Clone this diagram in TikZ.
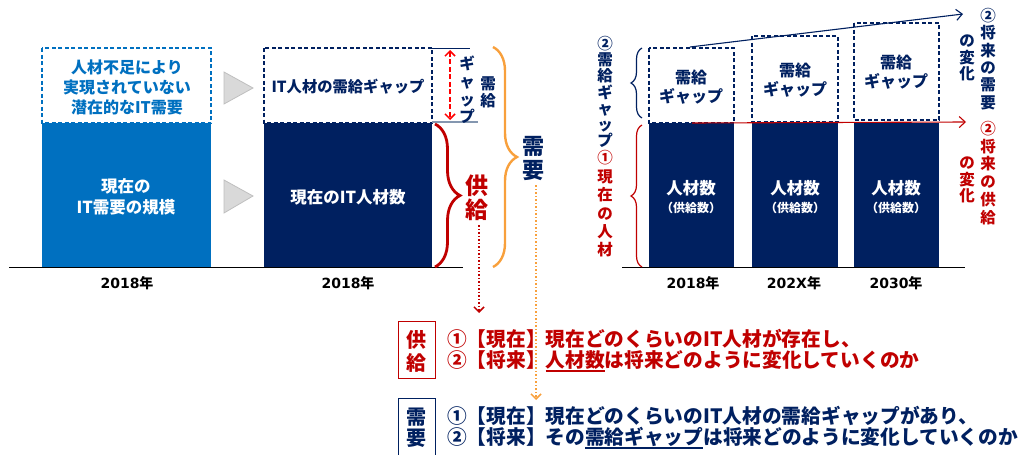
\documentclass[tikz,border=0pt]{standalone}
\usepackage{fontspec}
\setmainfont{Noto Sans CJK JP}
\newfontfamily\dv{DejaVu Sans}
\usetikzlibrary{arrows.meta,decorations.pathreplacing}
\definecolor{navy}{HTML}{002060}
\definecolor{mblue}{HTML}{0070C0}
\definecolor{dred}{HTML}{C00000}
\definecolor{bred}{HTML}{FF0000}
\definecolor{orng}{HTML}{F8A03C}
\definecolor{tri}{HTML}{D9D9D9}
\definecolor{triline}{HTML}{BFBFBF}
\definecolor{gapline}{HTML}{8497B0}
\newcommand\myul[1]{\setbox0\hbox{#1}\rlap{\rule[-4.5pt]{\wd0}{1.6pt}}\box0}
\newcommand\yr[1]{{\dv\bfseries #1}年}
\tikzset{
  lbl/.style n args={3}{inner sep=0pt, align=center, text=#1, font=\fontsize{#2}{#3}\selectfont\bfseries},
  dbox/.style={draw=#1, line width=1.6pt, dash pattern=on 4pt off 2.5pt},
  bigbrace/.style={decorate, decoration={brace, amplitude=#1, aspect=0.5}},
  tip/.style={-{Straight Barb[length=5pt,width=10pt]}},
  tri/.style={fill=tri, draw=triline, line width=0.8pt}
}
\begin{document}
\begin{tikzpicture}[x=1pt,y=-1pt]
\useasboundingbox (0,0) rectangle (1026,455);

% ---------- left chart ----------
\fill[mblue] (42,123) rectangle (211,267);
\draw[dbox=mblue] (42,48) rectangle (211,123);
\fill[navy] (264,123) rectangle (432,267);
\draw[dbox=navy] (264,48) rectangle (432,123);
\draw[black, line width=1pt] (9,267) -- (463,267);

\draw[tri] (224,72) -- (253,88) -- (224,104) -- cycle;
\draw[tri] (224,180) -- (253,196) -- (224,213) -- cycle;

\node[lbl={mblue}{16}{20}] (pot) at (127,87) {人材不足により\\実現されていない\\潜在的なIT需要};
\node[lbl={white}{16.5}{21}] (cur) at (126,197) {現在の\\IT需要の規模};
\node[lbl={navy}{15.3}{20}] (gaptxt) at (348,87) {IT人材の需給ギャップ};
\node[lbl={white}{16.5}{21}] (curit) at (348,197) {現在のIT人材数};
\node[lbl={black}{14}{18}] (y1) at (127,283) {\yr{2018}};
\node[lbl={black}{14}{18}] (y2) at (348,283) {\yr{2018}};

% gap marker
\draw[navy, line width=1pt] (432,48) -- (470,48);
\draw[gapline, line width=1.3pt] (432,122) -- (478,122);
\coordinate (ga) at (450,50);
\coordinate (gb) at (450,120);
\draw[bred, line width=1.5pt, dash pattern=on 5pt off 2.5pt, {Straight Barb[length=5pt,width=10pt]}-{Straight Barb[length=5pt,width=10pt]}] (ga) -- (gb);
\node[lbl={navy}{15.5}{17.8}] (vgap) at (467,90) {ギ\\ャ\\ッ\\プ};
\node[lbl={navy}{15.5}{17}] (vjk) at (488,92) {需\\給};

% braces
\draw[dred, line width=2.8pt, bigbrace=25pt] (435,124) -- (435,267);
\draw[orng, line width=2.4pt, bigbrace=24pt] (493,47) -- (493,267);
\node[lbl={dred}{23}{24}] (kyo) at (477,198) {供\\給};
\node[lbl={navy}{22}{24}] (juyo) at (533,159) {需\\要};

% dotted arrows
\coordinate (kyoend) at (479,313);
\coordinate (juyoend) at (536,400);
\draw[dred, line width=1.5pt, dotted, tip] (kyo.south) ++(2,4) -- (kyoend);
\draw[orng, line width=1.5pt, dotted, tip] (juyo.south) ++(3,4) -- (juyoend);

% ---------- right chart ----------
\fill[navy] (649,123) rectangle (734,267);
\fill[navy] (752,123) rectangle (838,267);
\fill[navy] (854,123) rectangle (939,267);
\draw[dbox=navy] (649,48) rectangle (734,123);
\draw[dbox=navy] (752,36) rectangle (838,122);
\draw[dbox=navy] (854,23) rectangle (939,120);
\draw[black, line width=1pt] (622,267) -- (965,267);

\node[lbl={navy}{16}{19.5}] (g1) at (691,87) {需給\\ギャップ};
\node[lbl={navy}{16}{19.5}] (g2) at (795,80) {需給\\ギャップ};
\node[lbl={navy}{16}{19.5}] (g3) at (896,72) {需給\\ギャップ};
\node[lbl={white}{16.5}{17}] (s1) at (691,188) {人材数};
\node[lbl={white}{16.5}{17}] (s2) at (795,188) {人材数};
\node[lbl={white}{16.5}{17}] (s3) at (896,188) {人材数};
\node[lbl={white}{12}{12}] (p1) at (691,208) {（供給数）};
\node[lbl={white}{12}{12}] (p2) at (795,208) {（供給数）};
\node[lbl={white}{12}{12}] (p3) at (896,208) {（供給数）};
\node[lbl={black}{14}{18}] (r1) at (693,283) {\yr{2018}};
\node[lbl={black}{14}{18}] (r2) at (794,283) {\yr{202X}};
\node[lbl={black}{14}{18}] (r3) at (896,283) {\yr{2030}};

% trend arrows
\coordinate (na) at (690,47);
\coordinate (nb) at (963,14);
\coordinate (ra) at (692,123);
\coordinate (rb) at (966,122);
\draw[navy, line width=1.1pt, -{Straight Barb[length=6pt,width=11pt]}] (na) -- (nb);
\draw[dred, line width=1.1pt, -{Straight Barb[length=6pt,width=11pt]}] (ra) -- (rb);

% small braces
\draw[navy, line width=1.2pt, bigbrace=11pt] (642,118) -- (642,48);
\draw[dred, line width=1.2pt, bigbrace=11pt] (642,267) -- (642,125);

% left vertical labels
\node[lbl={navy}{15.5}{16.2}] (lv1) at (605,92) {②\\需\\給\\ギ\\ャ\\ッ\\プ};
\node[lbl={dred}{15.5}{18.4}] (lv2) at (605,204) {①\\現\\在\\の\\人\\材};

% right vertical labels
\node[lbl={navy}{15.5}{17.4}] (rv1) at (988,59) {②\\将\\来\\の\\需\\要};
\node[lbl={navy}{15.5}{16.5}] (rv2) at (967,58) {の\\変\\化};
\node[lbl={dred}{15.5}{17.8}] (rv3) at (988,173) {②\\将\\来\\の\\供\\給};
\node[lbl={dred}{15.5}{16.5}] (rv4) at (967,180) {の\\変\\化};

% ---------- bottom text ----------
\draw[dred, line width=1pt] (398,321) rectangle (435,378);
\node[lbl={dred}{20}{23}] (bk) at (416.5,351) {供\\給};
\draw[navy, line width=1pt] (398,457) -- (398,398) -- (435,398) -- (435,457);
\node[lbl={navy}{20}{21}] (bj) at (416.5,428) {需\\要};

\node[lbl={dred}{19.7}{20}, anchor=west] (l1) at (447,339) {①【現在】現在どのくらいのIT人材が存在し、};
\node[lbl={dred}{19.7}{20}, anchor=west] (l2) at (447,361) {②【将来】\myul{人材数}は将来どのように変化していくのか};
\node[lbl={navy}{19.7}{20}, anchor=west] (l3) at (447,416) {①【現在】現在どのくらいのIT人材の需給ギャップがあり、};
\node[lbl={navy}{19.7}{20}, anchor=west] (l4) at (447,438) {②【将来】その\myul{需給ギャップ}は将来どのように変化していくのか};
\end{tikzpicture}
\end{document}
